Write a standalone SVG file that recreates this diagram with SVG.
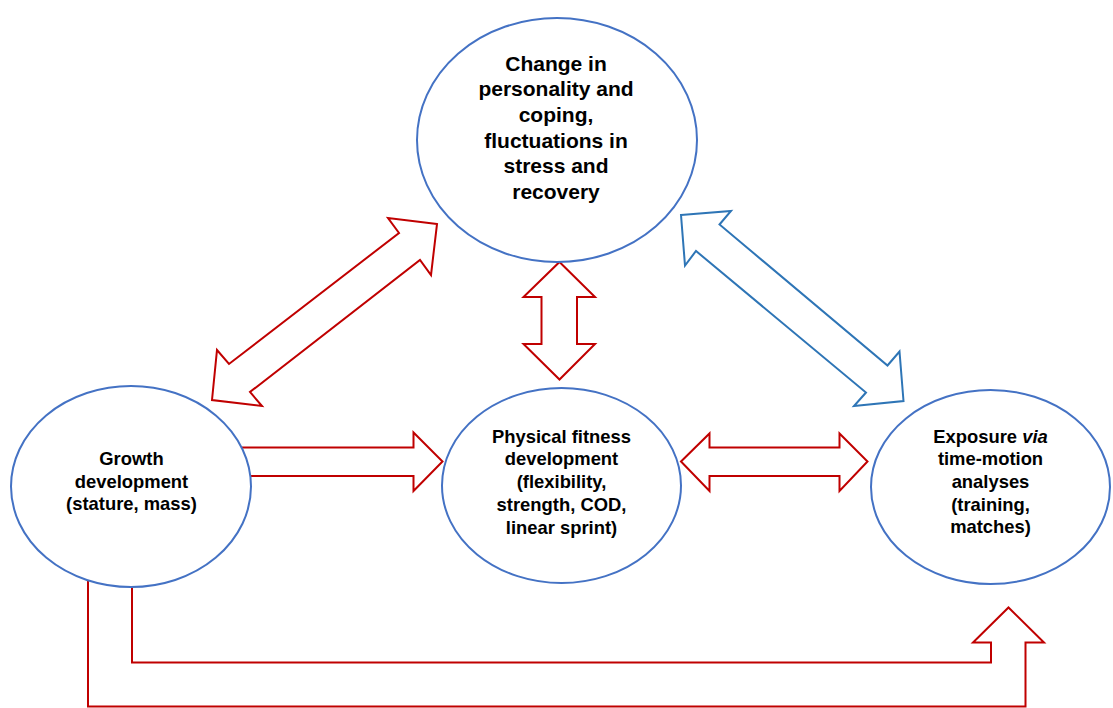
<svg xmlns="http://www.w3.org/2000/svg" width="1113" height="708" viewBox="0 0 1113 708">
  <style>
    .node { fill: #FFFFFF; stroke: #4472C4; stroke-width: 2; }
    .red { fill: #FFFFFF; stroke: #C00000; stroke-width: 2; stroke-linejoin: miter; }
    .blue { fill: #FFFFFF; stroke: #2E75B6; stroke-width: 2; stroke-linejoin: miter; }
    .lbl { font-family: "Liberation Sans", Arial, sans-serif; font-weight: bold; font-size: 18.4px; fill: #000000; text-anchor: middle; }
    .big { font-size: 21px; }
  </style>
  <rect width="1113" height="708" fill="#FFFFFF"/>

  <!-- block arrows between the nodes -->
  <g id="connectors">
    <!-- growth <-> personality (diagonal, double-headed) -->
    <polygon class="red" points="437,224 388,218 399,233 229,364 217,350 212,400 262,406 250,392 420,260 431,275"/>
    <!-- personality <-> fitness (vertical, double-headed) -->
    <polygon class="red" points="559.5,262 595,297 577,297 577,344 595,344 559.5,379.5 523.5,344 541.5,344 541.5,297 523.5,297"/>
    <!-- personality <-> exposure (diagonal, double-headed) -->
    <polygon class="blue" points="681,215 731,211 719.5,224.5 887.5,365.5 899.5,351.5 903.5,401 854,406 866,392.5 696,251 685,265.5"/>
    <!-- growth -> fitness -->
    <polygon class="red" points="200,447.5 413.5,447.5 413.5,432.5 442.5,461.5 413.5,491 413.5,476 200,476"/>
    <!-- fitness <-> exposure -->
    <polygon class="red" points="681,461.5 709.5,433.5 709.5,447.5 839.5,447.5 839.5,433.5 867.5,461.5 839.5,491 839.5,476 709.5,476 709.5,491"/>
    <!-- growth -> exposure (bent arrow along the bottom) -->
    <polygon class="red" points="88,560 88,706.5 1025.5,706.5 1025.5,642.5 1044,642.5 1008.5,607.5 973,642.5 991,642.5 991,662.5 132,662.5 132,560"/>
  </g>

  <g id="node-personality">
    <ellipse class="node" cx="557" cy="140" rx="140" ry="122"/>
    <text class="lbl big" x="556" y="70.5">Change in</text>
    <text class="lbl big" x="556" y="96.2">personality and</text>
    <text class="lbl big" x="556" y="122">coping,</text>
    <text class="lbl big" x="556" y="147.7">fluctuations in</text>
    <text class="lbl big" x="556" y="173.4">stress and</text>
    <text class="lbl big" x="556" y="199">recovery</text>
  </g>

  <g id="node-growth">
    <ellipse class="node" cx="131" cy="486.5" rx="120" ry="100.5"/>
    <text class="lbl" x="131.5" y="465">Growth</text>
    <text class="lbl" x="131.5" y="487.5">development</text>
    <text class="lbl" x="131.5" y="510">(stature, mass)</text>
  </g>

  <g id="node-fitness">
    <ellipse class="node" cx="561.5" cy="485.5" rx="119.5" ry="97.5"/>
    <text class="lbl" x="561.5" y="442.7">Physical fitness</text>
    <text class="lbl" x="561.5" y="465.4">development</text>
    <text class="lbl" x="561.5" y="488.1">(flexibility,</text>
    <text class="lbl" x="561.5" y="510.8">strength, COD,</text>
    <text class="lbl" x="561.5" y="533.5">linear sprint)</text>
  </g>

  <g id="node-exposure">
    <ellipse class="node" cx="990.5" cy="487" rx="119.5" ry="97"/>
    <text class="lbl" x="990.5" y="442.5">Exposure <tspan font-style="italic">via</tspan></text>
    <text class="lbl" x="990.5" y="465.2">time-motion</text>
    <text class="lbl" x="990.5" y="487.9">analyses</text>
    <text class="lbl" x="990.5" y="510.6">(training,</text>
    <text class="lbl" x="990.5" y="533.3">matches)</text>
  </g>
</svg>
